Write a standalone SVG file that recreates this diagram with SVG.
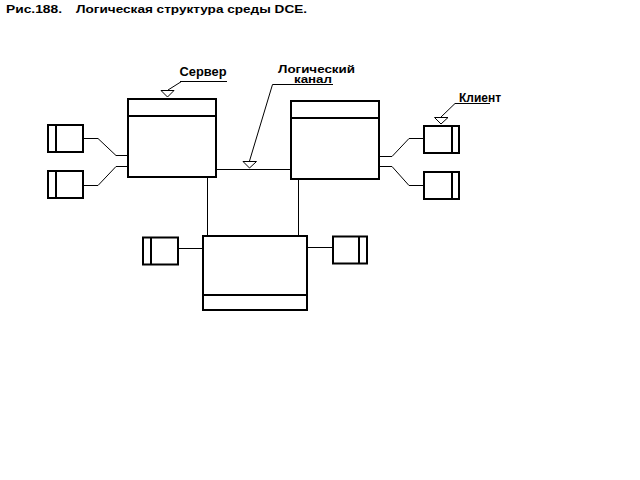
<svg xmlns="http://www.w3.org/2000/svg" width="640" height="480" viewBox="0 0 640 480">
<style>
.box{fill:#fff;stroke:#000;stroke-width:2}
.ln{fill:none;stroke:#000;stroke-width:1}
.bl{fill:none;stroke:#000;stroke-width:2}
.tri{fill:#fff;stroke:#000;stroke-width:1}
text{font-family:"Liberation Sans",Arial,sans-serif;font-weight:bold;fill:#000}
.t{font-size:11.5px}
.l{font-size:12px}
.s{font-size:11px}
</style>
<rect width="640" height="480" fill="#fff"/>
<g id="title">
<text class="t" x="6" y="13" textLength="56" lengthAdjust="spacingAndGlyphs">Рис.188.</text>
<text class="t" x="76" y="13" textLength="231" lengthAdjust="spacingAndGlyphs">Логическая структура среды DCE.</text>
</g>
<g id="connectors">
<path class="ln" d="M83,138.5 H98 L116,155.5 H127"/>
<path class="ln" d="M127,166.5 H116 L98,185.5 H83"/>
<path class="ln" d="M380,156.5 H392 L409,138.5 H423"/>
<path class="ln" d="M380,166.5 H392 L409,185.5 H423"/>
<path class="ln" d="M217,169.5 H290"/>
<path class="ln" d="M207.5,178 V235"/>
<path class="ln" d="M298.5,180 V235"/>
<path class="ln" d="M179,248.5 H202"/>
<path class="ln" d="M308,247.5 H332"/>
</g>
<g id="server-left">
<rect class="box" x="128" y="99" width="88" height="78"/>
<path class="bl" d="M128,116 H216"/>
</g>
<g id="server-right">
<rect class="box" x="291" y="101" width="88" height="78"/>
<path class="bl" d="M291,118 H379"/>
</g>
<g id="server-bottom">
<rect class="box" x="203" y="236" width="104" height="74"/>
<path class="bl" d="M203,295 H307"/>
</g>
<g id="ws-left-1">
<rect class="box" x="48" y="125" width="35" height="27"/>
<path class="bl" d="M56,125 V152"/>
</g>
<g id="ws-left-2">
<rect class="box" x="48" y="171" width="35" height="27"/>
<path class="bl" d="M56,171 V198"/>
</g>
<g id="ws-bottom-left">
<rect class="box" x="143" y="237.5" width="35" height="27"/>
<path class="bl" d="M151,237.5 V264.5"/>
</g>
<g id="ws-bottom-right">
<rect class="box" x="333" y="236.5" width="34" height="27"/>
<path class="bl" d="M359,236.5 V263.5"/>
</g>
<g id="client-1">
<rect class="box" x="424" y="126" width="35" height="27"/>
<path class="bl" d="M452,126 V153"/>
</g>
<g id="client-2">
<rect class="box" x="424" y="172" width="35" height="27"/>
<path class="bl" d="M452,172 V199"/>
</g>
<g id="label-server">
<text class="l" x="179.5" y="76" textLength="47" lengthAdjust="spacingAndGlyphs">Сервер</text>
<path class="ln" d="M180,81.5 H227 M181.5,81.5 L168,90"/>
<polygon class="tri" points="161,90.5 174,90.5 167.5,97"/>
</g>
<g id="label-channel">
<text class="s" x="278" y="72.5" textLength="77" lengthAdjust="spacingAndGlyphs">Логический</text>
<text class="s" x="294" y="83" textLength="38" lengthAdjust="spacingAndGlyphs">канал</text>
<path class="ln" d="M272.5,84.5 H333 M272.5,84.5 L249.5,161"/>
<polygon class="tri" points="243,161.5 256.5,161.5 249.5,168"/>
</g>
<g id="label-client">
<text class="l" x="459" y="101.5" textLength="42" lengthAdjust="spacingAndGlyphs">Клиент</text>
<path class="ln" d="M455,103.5 H490 M455,103.5 L441,117"/>
<polygon class="tri" points="434.5,117.5 448,117.5 441,124"/>
</g>
</svg>
